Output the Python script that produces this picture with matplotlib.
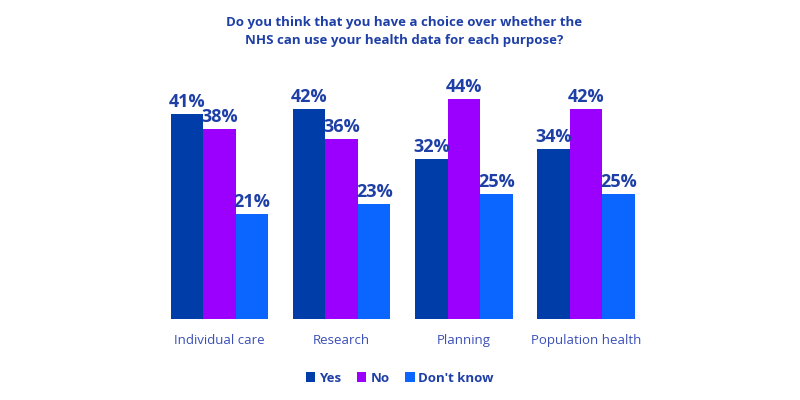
import numpy as np
import matplotlib.pyplot as plt

plt.rcParams['font.family'] = ['Open Sans', 'DejaVu Sans']

# Data
purposes = ["Individual care", "Research", "Planning", "Population health"]
yes = [41, 42, 32, 34]
no = [38, 36, 44, 42]
dont_know = [21, 23, 25, 25]

series_names = ["Yes", "No", "Don't know"]
colours = ["#003DA8", "#9B00FF", "#0A66FF"]
text_colour = "#1E3FA6"

fig = plt.figure(figsize=(8, 4), dpi=100)
ax = fig.add_axes([0.198, 0.2025, 0.611, 0.625])

x = np.arange(len(purposes))
w = 0.266
for i, (vals, name, col) in enumerate(zip([yes, no, dont_know], series_names, colours)):
    pos = x + (i - 1) * w
    bars = ax.bar(pos, vals, width=w, color=col, label=name)
    for b, v in zip(bars, vals):
        ax.text(b.get_x() + b.get_width() / 2, v + 0.6, f"{v}%", ha="center", va="bottom",
                fontsize=13, fontweight="bold", color=text_colour)

ax.set_xlim(-0.5, 3.5)
ax.set_ylim(0, 50)
ax.set_xticks(x)
ax.set_xticklabels(purposes, fontsize=9.5, color="#3A4FB8")
ax.tick_params(axis="x", length=0, pad=11)
ax.set_yticks([])
for s in ax.spines.values():
    s.set_visible(False)

fig.text(0.505, 0.96, "Do you think that you have a choice over whether the\nNHS can use your health data for each purpose?",
         ha="center", va="top", fontsize=9.5, fontweight="bold", color=text_colour, linespacing=1.5)

leg = fig.legend(loc="center", bbox_to_anchor=(0.5, 0.055), ncol=3, frameon=False,
                 handlelength=0.7, handleheight=0.7, handletextpad=0.3, columnspacing=1.2,
                 prop={"weight": "bold", "size": 9.5})
for t in leg.get_texts():
    t.set_color(text_colour)

fig.savefig("out.png", dpi=100)
